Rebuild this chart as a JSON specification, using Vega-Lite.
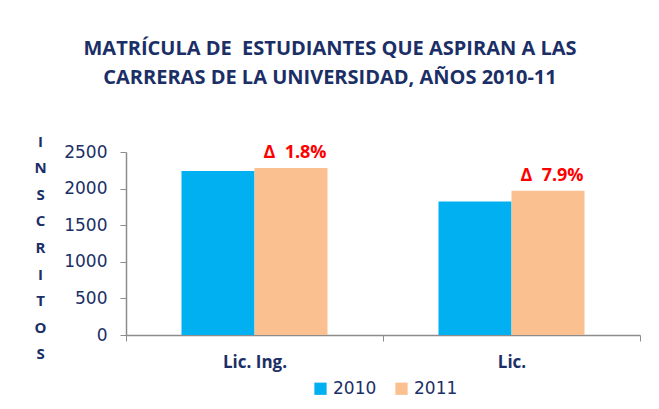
{
  "$schema": "https://vega.github.io/schema/vega-lite/v6.json",
  "width": 514,
  "height": 183,
  "autosize": {"type": "none"},
  "padding": {"left": 126, "top": 152, "right": 19, "bottom": 74},
  "background": "white",
  "config": {"view": {"stroke": null}, "font": "DejaVu Sans"},
  "title": {
    "text": ["MATRÍCULA DE\u00a0 ESTUDIANTES QUE ASPIRAN A LAS", "CARRERAS DE LA UNIVERSIDAD, AÑOS 2010-11"],
    "fontSize": 20,
    "font": "Open Sans",
    "fontWeight": "bold",
    "color": "#1B2F66",
    "lineHeight": 29,
    "anchor": "middle",
    "dx": -53,
    "offset": 46
  },
  "data": {
    "values": [
      {"carrera": "Lic. Ing.", "anio": "2010", "inscritos": 2240, "etiqueta": ""},
      {"carrera": "Lic. Ing.", "anio": "2011", "inscritos": 2280, "etiqueta": "Δ\u00a0 1.8%"},
      {"carrera": "Lic.", "anio": "2010", "inscritos": 1825, "etiqueta": ""},
      {"carrera": "Lic.", "anio": "2011", "inscritos": 1969, "etiqueta": "Δ\u00a0 7.9%"}
    ]
  },
  "encoding": {
    "x": {
      "field": "carrera",
      "type": "nominal",
      "sort": ["Lic. Ing.", "Lic."],
      "scale": {"paddingInner": 0, "paddingOuter": 0},
      "axis": {
        "title": null,
        "labelAngle": 0,
        "tickBand": "extent",
        "tickSize": 6,
        "tickColor": "#8C8C8C",
        "domainColor": "#8C8C8C",
        "domainWidth": 1.5,
        "labelFont": "Open Sans",
        "labelFontWeight": "bold",
        "labelFontSize": 17,
        "labelColor": "#1B2F66",
        "labelPadding": 13
      }
    },
    "xOffset": {
      "field": "anio",
      "type": "nominal",
      "scale": {"paddingOuter": 0.76, "paddingInner": 0}
    },
    "y": {
      "field": "inscritos",
      "type": "quantitative",
      "scale": {"domain": [0, 2500]},
      "axis": {
        "title": ["I", "N", "S", "C", "R", "I", "T", "O", "S"],
        "titleAngle": 0,
        "titleX": -86,
        "titleY": -18,
        "titleAlign": "center",
        "titleBaseline": "top",
        "titleLineHeight": 26.6,
        "titleFont": "Open Sans",
        "titleFontSize": 15,
        "titleFontWeight": "bold",
        "titleColor": "#1B2F66",
        "values": [0, 500, 1000, 1500, 2000, 2500],
        "format": "d",
        "grid": false,
        "tickSize": 6,
        "tickColor": "#8C8C8C",
        "domainColor": "#8C8C8C",
        "domainWidth": 1.5,
        "labelFont": "DejaVu Sans",
        "labelFontSize": 17,
        "labelColor": "#1B2F66",
        "labelPadding": 13
      }
    }
  },
  "layer": [
    {
      "mark": {"type": "bar"},
      "encoding": {
        "color": {
          "field": "anio",
          "type": "nominal",
          "scale": {"domain": ["2010", "2011"], "range": ["#00B0F0", "#FAC090"]},
          "legend": {
            "title": null,
            "orient": "none",
            "legendX": 186,
            "legendY": 228,
            "direction": "horizontal",
            "symbolType": "square",
            "symbolSize": 150,
            "symbolStrokeWidth": 0,
            "labelFont": "DejaVu Sans",
            "labelFontSize": 17,
            "labelColor": "#1B2F66",
            "columnPadding": 16
          }
        }
      }
    },
    {
      "transform": [{"filter": "datum.etiqueta != ''"}],
      "mark": {
        "type": "text",
        "baseline": "bottom",
        "dy": -6,
        "dx": 4,
        "font": "Open Sans",
        "fontWeight": "bold",
        "fontSize": 18,
        "color": "#FF0000"
      },
      "encoding": {"text": {"field": "etiqueta"}}
    }
  ]
}
